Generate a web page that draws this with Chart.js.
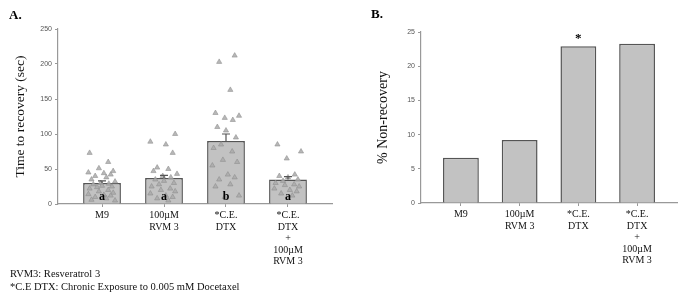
<!DOCTYPE html>
<html>
<head>
<meta charset="utf-8">
<script src="https://cdn.jsdelivr.net/npm/chart.js@4.4.1/dist/chart.umd.min.js"></script>
<style>
  body { margin: 0; background: #fff; width: 681px; height: 298px; position: relative; overflow: hidden; font-family: "Liberation Serif", serif; }
  .panel { position: absolute; top: 0; height: 298px; }
  #wrapA { left: 0; width: 345px; }
  #wrapB { left: 345px; width: 336px; }
  .tag { position: absolute; font-weight: bold; font-size: 13px; color: #000; }
  .note { position: absolute; left: 10px; font-size: 10.5px; color: #111; white-space: nowrap; }
</style>
</head>
<body>
<div class="panel" id="wrapA"><canvas id="chartA"></canvas></div>
<div class="panel" id="wrapB"><canvas id="chartB"></canvas></div>
<div class="tag" style="left:9px;top:7px;">A.</div>
<div class="tag" style="left:371px;top:6px;">B.</div>
<div class="note" style="top:268px;">RVM3: Resveratrol 3</div>
<div class="note" style="top:281px;">*C.E DTX: Chronic Exposure to 0.005 mM Docetaxel</div>
<script>
// --- Data ---
const categories = [
    'M9',
    ['100µM', 'RVM 3'],
    ['*C.E.', 'DTX'],
    ['*C.E.', 'DTX', '+', '100µM', 'RVM 3']
];

// Panel A: mean time to recovery (sec), error and significance letters
const recoveryMeans = [30, 37, 90, 35];
const recoveryErrors = [3, 4, 10, 4];
const sigLetters = ['a', 'a', 'b', 'a'];

// individual worms (sec)
const pointsM9 = [73, 60, 51, 47, 45, 44, 42, 40, 38, 35, 32, 30, 29, 28, 26, 25, 24, 22, 20, 18, 16, 14, 13, 12, 10, 8, 6, 5];
const pointsRVM = [100, 89, 85, 73, 52, 50, 47, 43, 40, 38, 35, 33, 30, 28, 25, 22, 20, 18, 15, 12, 10, 8, 5];
const pointsDTX = [212, 203, 163, 130, 126, 123, 120, 110, 105, 95, 85, 80, 75, 63, 60, 55, 42, 38, 35, 28, 25, 12, 10];
const pointsDTXRVM = [85, 75, 65, 42, 40, 38, 35, 33, 30, 28, 27, 25, 22, 20, 18, 15, 12];
const pointGroups = [pointsM9, pointsRVM, pointsDTX, pointsDTXRVM];

// Panel B: % non-recovery
const nonRecovery = [6.6, 9.2, 22.9, 23.3];
const starMarks = ['', '', '*', ''];

const ticksA = [0, 50, 100, 150, 200, 250];
const ticksB = [0, 5, 10, 15, 20, 25];

// horizontal spread for the dots (layout only)
const jitter = [-0.2, 0.1, -0.05, 0.18, -0.22, 0.03, 0.14, -0.11, 0.07, -0.17, 0.21, -0.02, 0.11, -0.14, 0.0, 0.16, -0.08];

const axisGrey = '#999';
const tickFont = { family: 'Arial, "Liberation Sans", sans-serif', size: 7 };
const catFont = { family: '"Liberation Serif", serif', size: 10, lineHeight: 1.15 };

// --- Plugins ---
const errorBars = {
    id: 'errorBars',
    afterDatasetsDraw(chart, args, opts) {
        if (!opts.values) return;
        const { ctx } = chart;
        const y = chart.scales.y;
        const meta = chart.getDatasetMeta(0);
        ctx.save();
        ctx.strokeStyle = '#555';
        ctx.lineWidth = 1.2;
        opts.values.forEach((err, i) => {
            const bar = meta.data[i];
            const top = y.getPixelForValue(recoveryMeans[i] + err);
            ctx.beginPath();
            ctx.moveTo(bar.x, bar.y);
            ctx.lineTo(bar.x, top);
            ctx.moveTo(bar.x - 4, top);
            ctx.lineTo(bar.x + 4, top);
            ctx.stroke();
        });
        ctx.restore();
    }
};

const barLabels = {
    id: 'barLabels',
    afterDraw(chart, args, opts) {
        if (!opts.labels) return;
        const { ctx } = chart;
        const meta = chart.getDatasetMeta(0);
        ctx.save();
        ctx.fillStyle = '#000';
        ctx.textAlign = 'center';
        ctx.textBaseline = 'bottom';
        ctx.font = opts.font;
        opts.labels.forEach((txt, i) => {
            if (!txt) return;
            const bar = meta.data[i];
            const yy = opts.atBase ? bar.base - 1 : bar.y - 1;
            ctx.fillText(txt, bar.x, yy);
        });
        ctx.restore();
    }
};

function fixedScale(w, h) {
    return (scale) => {
        if (w) scale.width = w;
        if (h) scale.height = h;
    };
}

function xAxis(height, edge) {
    return {
        type: 'linear',
        offset: false,
        min: -edge, max: categories.length - 1 + edge,
        border: { color: axisGrey, width: 1.2 },
        grid: { display: true, offset: false, drawOnChartArea: false, tickLength: 3, color: axisGrey },
        ticks: {
            color: '#111', font: catFont, padding: 3, maxRotation: 0, autoSkip: false,
            callback: (v) => categories[v]
        },
        afterBuildTicks: (s) => { s.ticks = categories.map((c, i) => ({ value: i })); },
        afterFit: fixedScale(null, height)
    };
}

function yAxis(max, ticks, width, titleText, titleSize, titlePad) {
    return {
        min: 0, max: max,
        border: { color: axisGrey, width: 1.2 },
        grid: { display: true, drawOnChartArea: false, tickLength: 3, color: axisGrey },
        ticks: { color: '#555', font: tickFont, padding: 3 },
        afterBuildTicks: (s) => { s.ticks = ticks.map(v => ({ value: v })); },
        title: {
            display: true, text: titleText, color: '#111',
            font: { family: '"Liberation Serif", serif', size: titleSize },
            padding: { top: titlePad, bottom: 0 }
        },
        afterFit: fixedScale(width, null)
    };
}

function barSet(values, extra) {
    return Object.assign({
        type: 'bar',
        data: values.map((v, i) => ({ x: i, y: v })),
        backgroundColor: '#c2c2c2',
        borderColor: '#555',
        borderWidth: 1.5,
        barPercentage: 0.61,
        categoryPercentage: 1,
        grouped: false
    }, extra || {});
}

// --- Chart A ---
const scatterData = [];
pointGroups.forEach((group, gi) => {
    group.forEach((v, j) => {
        scatterData.push({ x: gi + jitter[(j + gi * 3) % jitter.length], y: v });
    });
});

new Chart(document.getElementById('chartA'), {
    type: 'bar',
    data: {
        datasets: [barSet(recoveryMeans, { order: 1 }), {
            type: 'scatter',
            data: scatterData,
            pointStyle: 'triangle',
            radius: 3,
            backgroundColor: 'rgba(170,170,170,0.85)',
            borderColor: 'rgba(140,140,140,0.9)',
            borderWidth: 0.6,
            order: 0
        }]
    },
    options: {
        responsive: true,
        maintainAspectRatio: false,
        animation: false,
        layout: { padding: { top: 29, right: 13, bottom: 0, left: 0 } },
        plugins: {
            legend: { display: false },
            tooltip: { enabled: false },
            errorBars: { values: recoveryErrors },
            barLabels: { labels: sigLetters, atBase: true, font: 'bold 12px "Liberation Serif", serif' }
        },
        scales: {
            x: xAxis(94, 0.71),
            y: yAxis(250, ticksA, 58, 'Time to recovery (sec)', 13.5, 12)
        }
    },
    plugins: [errorBars, barLabels]
});

// --- Chart B ---
new Chart(document.getElementById('chartB'), {
    type: 'bar',
    data: {
        datasets: [barSet(nonRecovery)]
    },
    options: {
        responsive: true,
        maintainAspectRatio: false,
        animation: false,
        layout: { padding: { top: 32, right: 4, bottom: 0, left: 0 } },
        plugins: {
            legend: { display: false },
            tooltip: { enabled: false },
            barLabels: { labels: starMarks, atBase: false, font: 'bold 13px "Liberation Serif", serif' }
        },
        scales: {
            x: xAxis(95, 0.68),
            y: yAxis(25, ticksB, 76, '% Non-recovery', 14, 30)
        }
    },
    plugins: [barLabels]
});
</script>
</body>
</html>
